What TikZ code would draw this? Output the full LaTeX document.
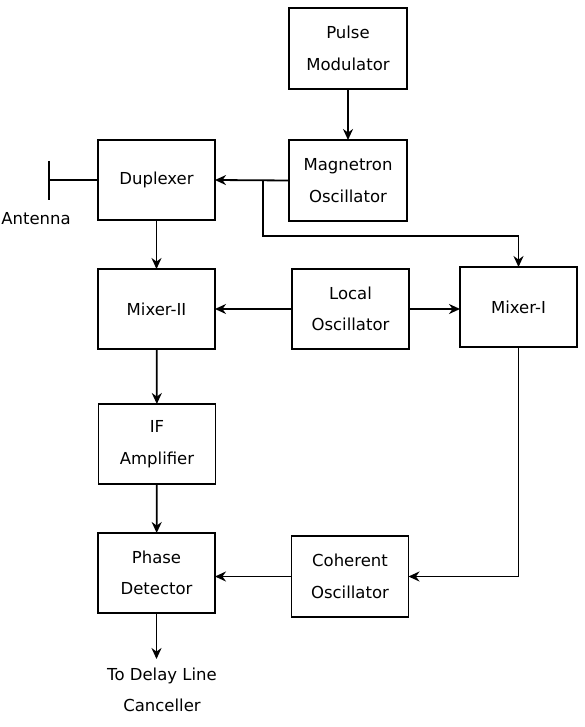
\documentclass[tikz,border=0pt]{standalone}
\usepackage{fontspec}
\setmainfont{DejaVu Sans}
\usetikzlibrary{arrows.meta}
\begin{document}
\begin{tikzpicture}[x=1pt,y=-1pt,
  blk/.style={draw,line width=1.8pt,minimum width=117pt,minimum height=80pt,outer sep=0pt,inner sep=0pt,align=center,font=\fontsize{16.5}{31.5}\selectfont},
  lbl/.style={align=center,font=\fontsize{16.5}{31.5}\selectfont},
  arr/.style={line width=1.8pt,-{Stealth[length=11pt,width=10pt]}},
  ln/.style={line width=1.8pt}]
\useasboundingbox (0,0) rectangle (584,727);
\node[blk,minimum width=118pt,minimum height=81pt] (pm) at (348,48.5) {Pulse\\Modulator};
\node[blk,minimum width=118pt,minimum height=81pt] (mag) at (348,180.5) {Magnetron\\Oscillator};
\node[blk] (dup) at (156.5,180) {Duplexer};
\node[blk] (mix2) at (156.5,309) {Mixer-II};
\node[blk] (lo) at (350.5,309) {Local\\Oscillator};
\node[blk] (mix1) at (518.5,307) {Mixer-I};
\node[blk] (ifa) at (157,444) {IF\\Amplifier};
\node[blk] (pd) at (156.5,573) {Phase\\Detector};
\node[blk,minimum height=81pt] (coh) at (350,576.5) {Coherent\\Oscillator};
\coordinate (anttop) at (49,161);
\coordinate (antbot) at (49,200);
\coordinate (antmid) at (49,180);
\node[lbl] (antlbl) at (36,219) {Antenna};
\coordinate (j) at (263,180.5);
\coordinate (jb) at (263,236);
\coordinate (out) at (156.5,659);
\node[lbl,anchor=north] (dl) at (162,664) {To Delay Line\\Canceller};
\draw[arr] (pm) -- (mag);
\draw[arr] (mag.west) -- (dup.east);
\draw[arr] (j) -- (jb) -| (mix1.north);
\draw[ln] (anttop) -- (antbot);
\draw[ln] (antmid) -- (dup.west);
\draw[arr] (dup) -- (mix2);
\draw[arr] (lo.west) -- (mix2.east);
\draw[arr] (lo.east) -- (lo.east -| mix1.west);
\draw[arr] (mix2) -- (ifa);
\draw[arr] (ifa) -- (pd);
\draw[arr] (mix1.south) |- (coh.east);
\draw[arr] (coh.west) -- (coh.west -| pd.east);
\draw[arr] (pd.south) -- (out);
\end{tikzpicture}
\end{document}
